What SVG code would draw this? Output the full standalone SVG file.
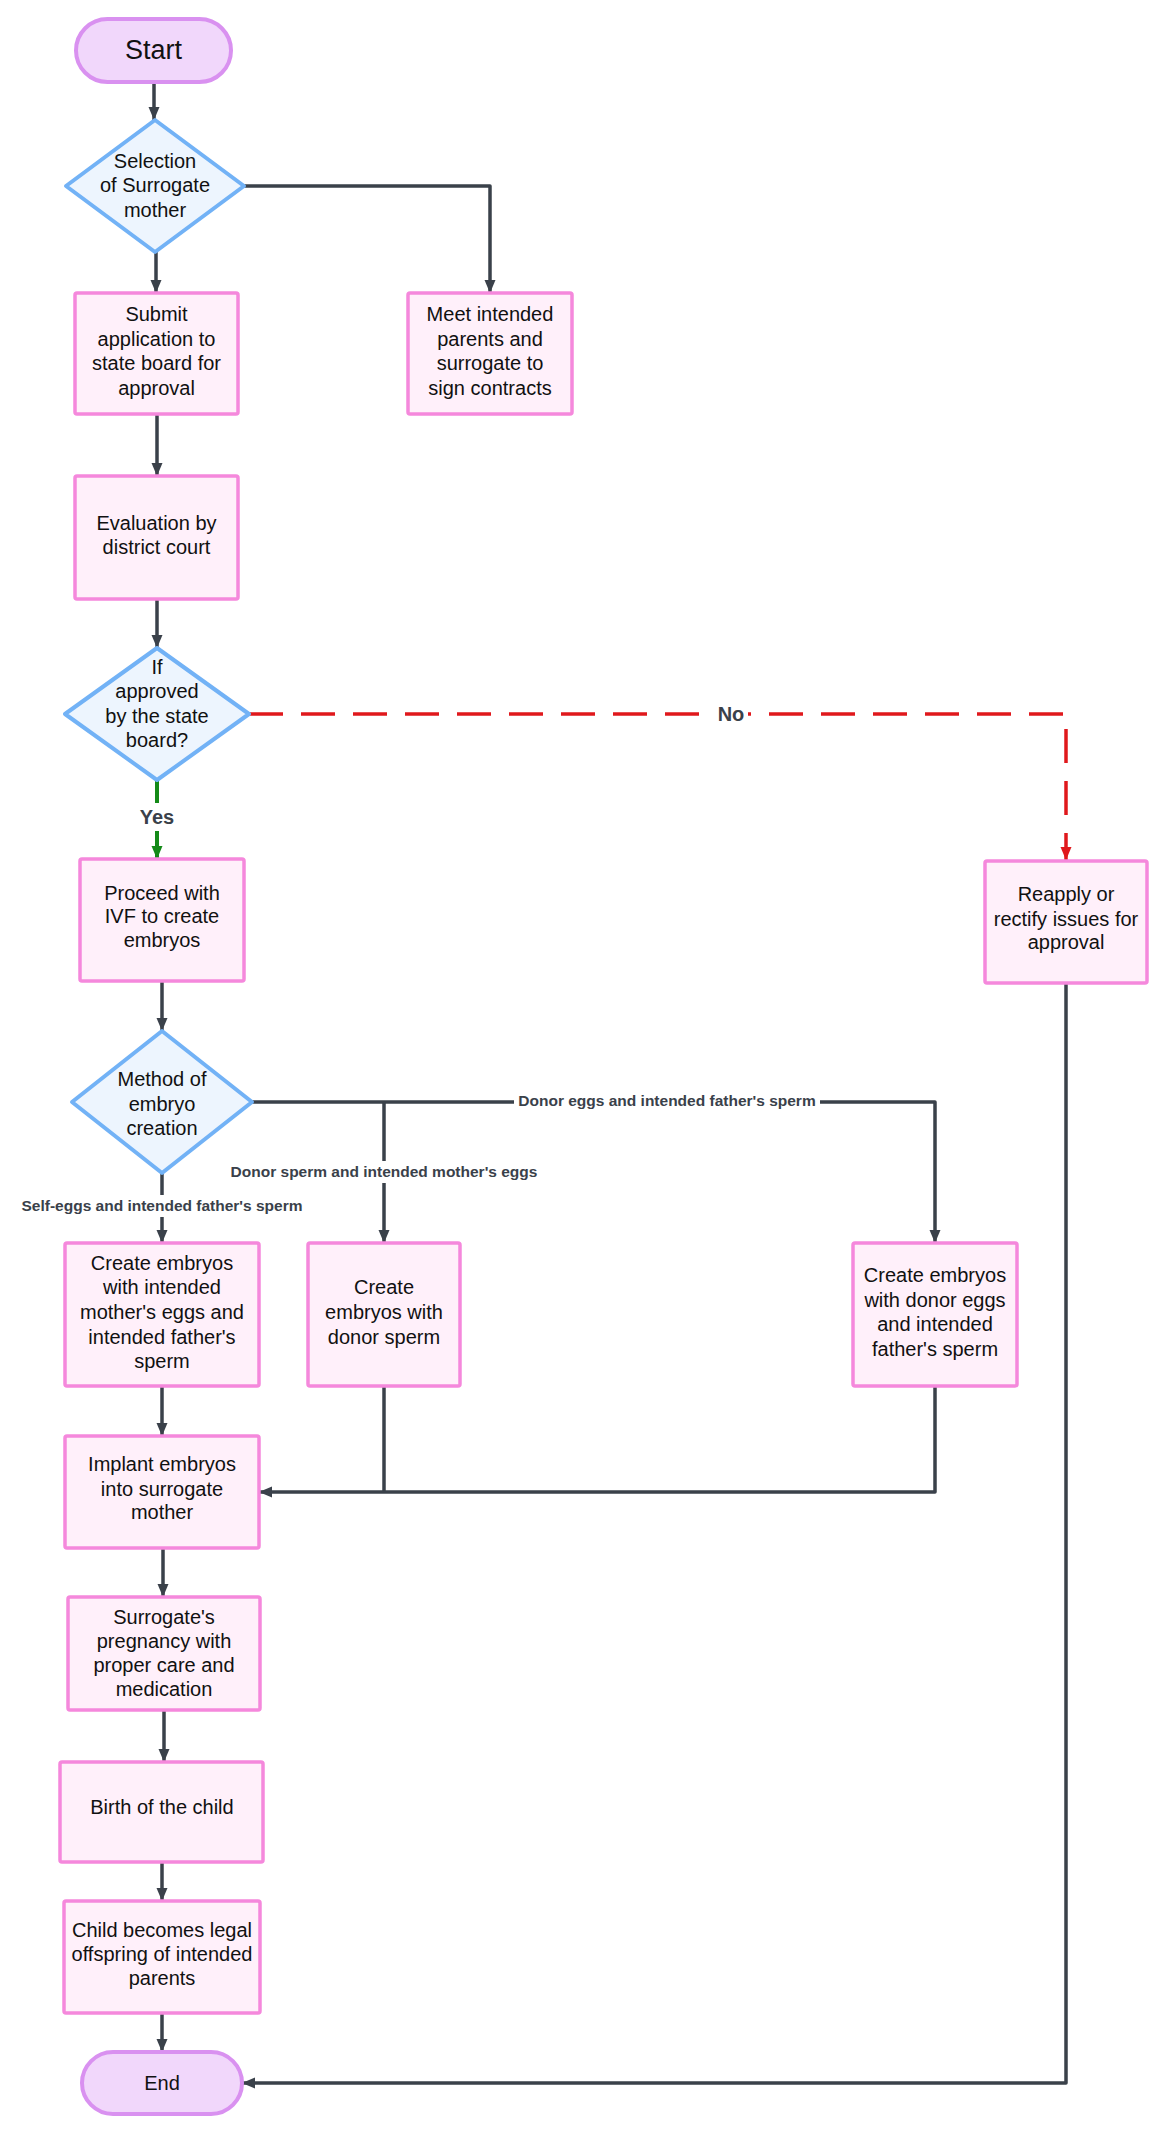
<svg xmlns="http://www.w3.org/2000/svg" width="1168" height="2134" viewBox="0 0 1168 2134">
<style>
.box{fill:#fff0fa;stroke:#f588dc;stroke-width:3.5}
.dia{fill:#edf5fe;stroke:#72b2f6;stroke-width:4;stroke-linejoin:round}
.pill{fill:#f1d7fb;stroke:#d991f0;stroke-width:4}
.t{font-family:"Liberation Sans",Arial,sans-serif;font-size:20px;fill:#111;text-anchor:middle}
.big{font-size:27px}
.lbl{font-family:"Liberation Sans",Arial,sans-serif;font-size:15.5px;font-weight:bold;fill:#3a414a;text-anchor:middle}
.yn{font-size:20px}
.c{fill:none;stroke:#3a414a;stroke-width:3.5;stroke-linejoin:round}
.red{fill:none;stroke:#e0181c;stroke-width:3.5;stroke-dasharray:34 18}
.grn{fill:none;stroke:#148a18;stroke-width:4}
.bg{fill:#fff}
</style>
<defs>
<marker id="ad" markerUnits="userSpaceOnUse" markerWidth="13" markerHeight="12" viewBox="0 0 13 12" refX="13" refY="6" orient="auto"><path d="M0,0.5 L13,6 L0,11.5 Z" fill="#3a414a"/></marker>
<marker id="ar" markerUnits="userSpaceOnUse" markerWidth="13" markerHeight="12" viewBox="0 0 13 12" refX="13" refY="6" orient="auto"><path d="M0,0.5 L13,6 L0,11.5 Z" fill="#e0181c"/></marker>
<marker id="ag" markerUnits="userSpaceOnUse" markerWidth="13" markerHeight="12" viewBox="0 0 13 12" refX="13" refY="6" orient="auto"><path d="M0,0.5 L13,6 L0,11.5 Z" fill="#148a18"/></marker>
</defs>

<g id="connectors">
<path class="c" d="M154,82 V120" marker-end="url(#ad)"/>
<path class="c" d="M156,252 V293" marker-end="url(#ad)"/>
<path class="c" d="M244,186 H490 V293" marker-end="url(#ad)"/>
<path class="c" d="M157,414 V476" marker-end="url(#ad)"/>
<path class="c" d="M157,599 V648" marker-end="url(#ad)"/>
<path class="red" d="M249,714 H1066 V860" marker-end="url(#ar)"/>
<path class="grn" d="M157,780 V859" marker-end="url(#ag)"/>
<path class="c" d="M162,981 V1031" marker-end="url(#ad)"/>
<path class="c" d="M162,1173 V1243" marker-end="url(#ad)"/>
<path class="c" d="M252,1102 H935 V1243" marker-end="url(#ad)"/>
<path class="c" d="M384,1102 V1243" marker-end="url(#ad)"/>
<path class="c" d="M162,1386 V1436" marker-end="url(#ad)"/>
<path class="c" d="M384,1386 V1492"/>
<path class="c" d="M935,1386 V1492 H259" marker-end="url(#ad)"/>
<path class="c" d="M163,1548 V1597" marker-end="url(#ad)"/>
<path class="c" d="M164,1710 V1762" marker-end="url(#ad)"/>
<path class="c" d="M162,1862 V1901" marker-end="url(#ad)"/>
<path class="c" d="M162,2013 V2052" marker-end="url(#ad)"/>
<path class="c" d="M1066,983 V2083 H242" marker-end="url(#ad)"/>
<rect class="bg" x="714" y="700" width="34" height="26"/>
<text class="lbl yn" x="731" y="721">No</text>
<rect class="bg" x="136" y="803" width="42" height="28"/>
<text class="lbl yn" x="157" y="824">Yes</text>
<rect class="bg" x="514" y="1090" width="306" height="22"/>
<text class="lbl" x="667" y="1106">Donor eggs and intended father's sperm</text>
<rect class="bg" x="228" y="1161" width="312" height="22"/>
<text class="lbl" x="384" y="1177">Donor sperm and intended mother's eggs</text>
<rect class="bg" x="18" y="1195" width="288" height="22"/>
<text class="lbl" x="162" y="1211">Self-eggs and intended father's sperm</text>
</g>

<g id="start">
<rect class="pill" x="76" y="19" width="155" height="63" rx="31.5"/>
<text class="t big" x="153.5" y="59">Start</text>
</g>
<g id="selection">
<polygon class="dia" points="155,120 244,186 155,252 66,186"/>
<text class="t" x="155" y="168">Selection</text>
<text class="t" x="155" y="192">of Surrogate</text>
<text class="t" x="155" y="217">mother</text>
</g>
<g id="submit">
<rect class="box" x="75" y="293" width="163" height="121" rx="2"/>
<text class="t" x="156.5" y="321">Submit</text>
<text class="t" x="156.5" y="346">application to</text>
<text class="t" x="156.5" y="370">state board for</text>
<text class="t" x="156.5" y="395">approval</text>
</g>
<g id="meet">
<rect class="box" x="408" y="293" width="164" height="121" rx="2"/>
<text class="t" x="490" y="321">Meet intended</text>
<text class="t" x="490" y="346">parents and</text>
<text class="t" x="490" y="370">surrogate to</text>
<text class="t" x="490" y="395">sign contracts</text>
</g>
<g id="evaluation">
<rect class="box" x="75" y="476" width="163" height="123" rx="2"/>
<text class="t" x="156.5" y="530">Evaluation by</text>
<text class="t" x="156.5" y="554">district court</text>
</g>
<g id="approved">
<polygon class="dia" points="157,648 249,714 157,780 65,714"/>
<text class="t" x="157" y="674">If</text>
<text class="t" x="157" y="698">approved</text>
<text class="t" x="157" y="723">by the state</text>
<text class="t" x="157" y="747">board?</text>
</g>
<g id="ivf">
<rect class="box" x="80" y="859" width="164" height="122" rx="2"/>
<text class="t" x="162" y="900">Proceed with</text>
<text class="t" x="162" y="923">IVF to create</text>
<text class="t" x="162" y="947">embryos</text>
</g>
<g id="reapply">
<rect class="box" x="985" y="861" width="162" height="122" rx="2"/>
<text class="t" x="1066" y="901">Reapply or</text>
<text class="t" x="1066" y="926">rectify issues for</text>
<text class="t" x="1066" y="949">approval</text>
</g>
<g id="method">
<polygon class="dia" points="162,1031 252,1102 162,1173 72,1102"/>
<text class="t" x="162" y="1086">Method of</text>
<text class="t" x="162" y="1111">embryo</text>
<text class="t" x="162" y="1135">creation</text>
</g>
<g id="create-self">
<rect class="box" x="65" y="1243" width="194" height="143" rx="2"/>
<text class="t" x="162" y="1270">Create embryos</text>
<text class="t" x="162" y="1294">with intended</text>
<text class="t" x="162" y="1319">mother's eggs and</text>
<text class="t" x="162" y="1344">intended father's</text>
<text class="t" x="162" y="1368">sperm</text>
</g>
<g id="create-donor-sperm">
<rect class="box" x="308" y="1243" width="152" height="143" rx="2"/>
<text class="t" x="384" y="1294">Create</text>
<text class="t" x="384" y="1319">embryos with</text>
<text class="t" x="384" y="1344">donor sperm</text>
</g>
<g id="create-donor-eggs">
<rect class="box" x="853" y="1243" width="164" height="143" rx="2"/>
<text class="t" x="935" y="1282">Create embryos</text>
<text class="t" x="935" y="1307">with donor eggs</text>
<text class="t" x="935" y="1331">and intended</text>
<text class="t" x="935" y="1356">father's sperm</text>
</g>
<g id="implant">
<rect class="box" x="65" y="1436" width="194" height="112" rx="2"/>
<text class="t" x="162" y="1471">Implant embryos</text>
<text class="t" x="162" y="1496">into surrogate</text>
<text class="t" x="162" y="1519">mother</text>
</g>
<g id="pregnancy">
<rect class="box" x="68" y="1597" width="192" height="113" rx="2"/>
<text class="t" x="164" y="1624">Surrogate's</text>
<text class="t" x="164" y="1648">pregnancy with</text>
<text class="t" x="164" y="1672">proper care and</text>
<text class="t" x="164" y="1696">medication</text>
</g>
<g id="birth">
<rect class="box" x="60" y="1762" width="203" height="100" rx="2"/>
<text class="t" x="162" y="1814">Birth of the child</text>
</g>
<g id="legal">
<rect class="box" x="64" y="1901" width="196" height="112" rx="2"/>
<text class="t" x="162" y="1937">Child becomes legal</text>
<text class="t" x="162" y="1961">offspring of intended</text>
<text class="t" x="162" y="1985">parents</text>
</g>
<g id="end">
<rect class="pill" x="82" y="2052" width="160" height="62" rx="31"/>
<text class="t" x="162" y="2090">End</text>
</g>
</svg>
